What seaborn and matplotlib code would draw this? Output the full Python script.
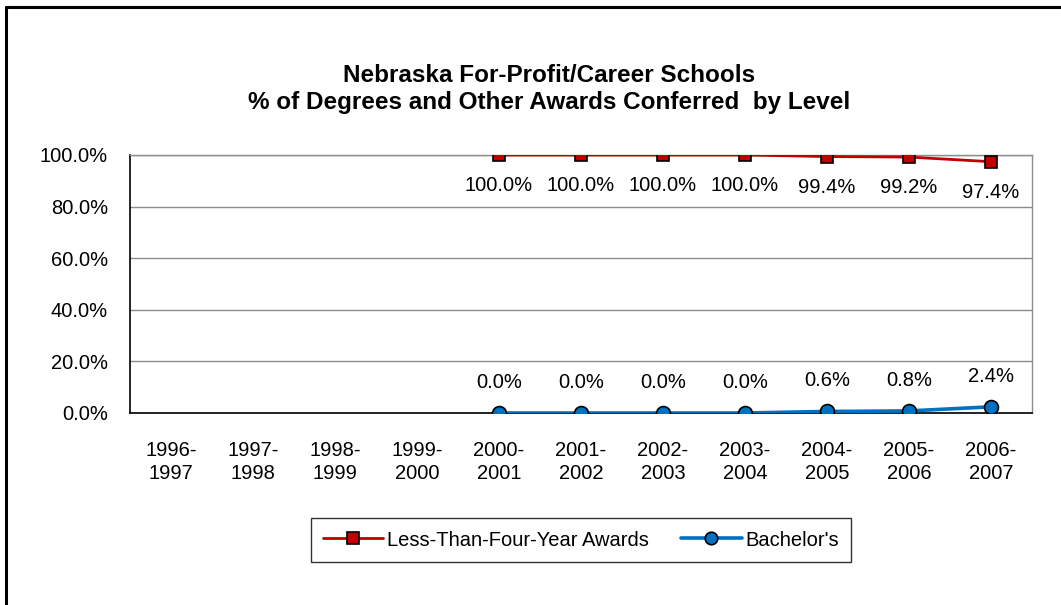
import numpy as np
import pandas as pd
import seaborn as sns
import matplotlib.pyplot as plt
from matplotlib.lines import Line2D

# chart data
years = ["1996-\n1997", "1997-\n1998", "1998-\n1999", "1999-\n2000", "2000-\n2001",
         "2001-\n2002", "2002-\n2003", "2003-\n2004", "2004-\n2005", "2005-\n2006",
         "2006-\n2007"]
less_than_four = [np.nan, np.nan, np.nan, np.nan, 100.0, 100.0, 100.0, 100.0, 99.4, 99.2, 97.4]
bachelors = [np.nan, np.nan, np.nan, np.nan, 0.0, 0.0, 0.0, 0.0, 0.6, 0.8, 2.4]
y_ticks = [0, 20, 40, 60, 80, 100]

sns.set_style("white")
plt.rcParams['font.family'] = ['Liberation Sans', 'DejaVu Sans']
plt.rcParams['text.color'] = 'black'
plt.rcParams['xtick.color'] = 'black'
plt.rcParams['ytick.color'] = 'black'

df = pd.DataFrame({"pos": range(len(years)),
                   "less": less_than_four,
                   "bach": bachelors})

fs = 14.5

fig = plt.figure(figsize=(10.61, 6.05), dpi=100)
ax = fig.add_axes([130 / 1061, 1 - 413 / 605, 902 / 1061, 258 / 605])

red = "#c00000"
blue = "#0070c0"

sns.lineplot(data=df, x="pos", y="less", ax=ax, color=red, lw=2,
             marker="s", markersize=8, markerfacecolor=red,
             markeredgecolor="black", markeredgewidth=1.2, zorder=4)
sns.lineplot(data=df, x="pos", y="bach", ax=ax, color=blue, lw=2.6,
             marker="o", markersize=10, markerfacecolor=blue,
             markeredgecolor="black", markeredgewidth=1.2, zorder=4)

# point labels
for i, v in enumerate(less_than_four):
    if not np.isnan(v):
        ax.annotate(f"{v:.1f}%", (i, v), xytext=(0, -22), textcoords="offset points",
                    ha="center", va="center", fontsize=fs)
for i, v in enumerate(bachelors):
    if not np.isnan(v):
        ax.annotate(f"{v:.1f}%", (i, v), xytext=(0, 22), textcoords="offset points",
                    ha="center", va="center", fontsize=fs)

ax.set_xlim(-0.5, len(years) - 0.5)
ax.set_ylim(0, 100)
ax.set_yticks(y_ticks)
ax.set_yticklabels([f"{t:.1f}%" for t in y_ticks], fontsize=fs)
ax.set_xticks(range(len(years)))
ax.set_xticklabels(years, fontsize=fs, linespacing=1.25)
ax.set_xticks(np.arange(-0.5, len(years), 1), minor=True)
ax.tick_params(axis="x", which="major", length=0, pad=20)
ax.tick_params(axis="x", which="minor", length=5, width=1, color="black", direction="out")
ax.tick_params(axis="y", length=5, width=1, color="black", direction="out", pad=11)
ax.set_xlabel("")
ax.set_ylabel("")

ax.grid(axis="y", color="#8c8c8c", lw=1)
ax.set_axisbelow(True)
for side in ["top", "right"]:
    ax.spines[side].set_color("#8c8c8c")
    ax.spines[side].set_linewidth(1)
for side in ["left", "bottom"]:
    ax.spines[side].set_color("black")
    ax.spines[side].set_linewidth(1.2)

fig.text(549 / 1061, 1 - 89 / 605,
         "Nebraska For-Profit/Career Schools\n% of Degrees and Other Awards Conferred  by Level",
         ha="center", va="center", fontsize=17.5, fontweight="bold", linespacing=1.2)

handles = [
    Line2D([], [], color=red, lw=2, marker="s", markersize=8, markerfacecolor=red,
           markeredgecolor="black", markeredgewidth=1.2),
    Line2D([], [], color=blue, lw=2.6, marker="o", markersize=9, markerfacecolor=blue,
           markeredgecolor="black", markeredgewidth=1.2),
]
leg = fig.legend(handles, ["Less-Than-Four-Year Awards", "Bachelor's"],
                 loc="center", bbox_to_anchor=(581 / 1061, 1 - 540 / 605), ncol=2,
                 fontsize=fs, frameon=True, fancybox=False, handlelength=3.0,
                 columnspacing=1.6, handletextpad=0.2, borderpad=0.6)
leg.get_frame().set_edgecolor("black")
leg.get_frame().set_linewidth(1)

# outer chart border (top and left only visible)
fig.add_artist(Line2D([5.5 / 1061, 1], [1 - 7 / 605, 1 - 7 / 605], color="black", lw=2.2,
                      transform=fig.transFigure))
fig.add_artist(Line2D([5.5 / 1061, 5.5 / 1061], [1 - 7 / 605, 0], color="black", lw=2.2,
                      transform=fig.transFigure))

fig.savefig("out.png", dpi=100)
